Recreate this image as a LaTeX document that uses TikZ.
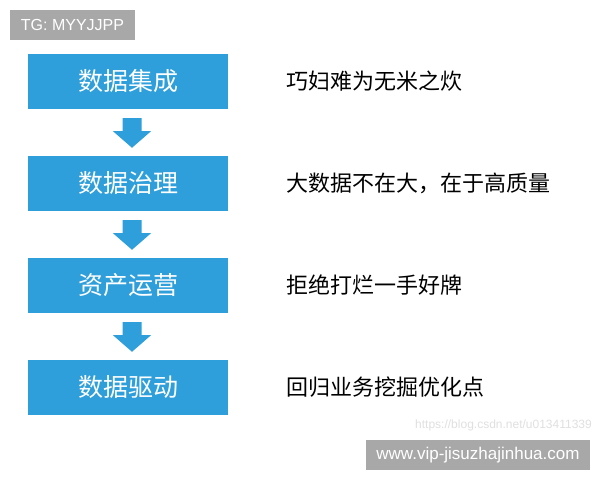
\documentclass[tikz,border=0pt]{standalone}
\usepackage{fontspec}
\setmainfont{Noto Sans CJK SC}
\newfontfamily\latinfont{Liberation Sans}
\usetikzlibrary{calc}
\usetikzlibrary{positioning}

\definecolor{stageblue}{HTML}{2E9FDA}
\definecolor{tagGray}{HTML}{A8A8A8}

\begin{document}
\begin{tikzpicture}[x=1pt, y=-1pt,
  stage/.style={fill=stageblue, text=white, minimum width=200pt, minimum height=55pt, inner sep=0, font=\fontsize{25}{25}\selectfont},
  motto/.style={anchor=west, inner sep=0, font=\fontsize{22}{22}\selectfont},
  tag/.style={fill=tagGray, text=white, inner sep=0, minimum height=30pt, font=\latinfont\fontsize{16}{16}\selectfont}]
\useasboundingbox[fill=white] (0,0) rectangle (600,480);
\node[tag, minimum width=125pt] (tg) at (72.5,25) {TG: MYYJJPP};
\foreach \i/\s/\m in {1/数据集成/巧妇难为无米之炊, 2/数据治理/大数据不在大，在于高质量, 3/资产运营/拒绝打烂一手好牌, 4/数据驱动/回归业务挖掘优化点} {
 \node[stage] (b\i) at (128,{81.5+102*(\i-1)}) {\s};
 \node[motto] (m\i) at (286,{81.5+102*(\i-1)}) {\m};
}
\foreach \i/\j in {1/2,2/3,3/4} {
 \fill[stageblue] ($(b\i.south)+(-5.5,9)$) -- ($(b\i.south)+(13.5,9)$) -- ($(b\i.south)+(13.5,22)$) -- ($(b\i.south)+(23,22)$)
   -- ($(b\j.north)+(4,-8)$) -- ($(b\i.south)+(-15,22)$) -- ($(b\i.south)+(-5.5,22)$) -- cycle;
}
\node[anchor=east, inner sep=0, text=black!12, font=\latinfont\fontsize{12}{12}\selectfont] (wm) at (592,425) {https://blog.csdn.net/u013411339};
\node[tag, minimum width=224pt, font=\latinfont\fontsize{17}{17}\selectfont] (url) at (478,455) {www.vip-jisuzhajinhua.com};
\end{tikzpicture}
\end{document}
